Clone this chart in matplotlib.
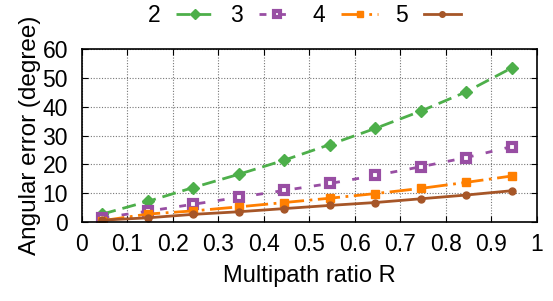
import matplotlib
matplotlib.use("Agg")
import matplotlib.pyplot as plt

plt.rcParams['font.family'] = ['Liberation Sans', 'DejaVu Sans']

ratio = [0.045, 0.145, 0.245, 0.345, 0.445, 0.545, 0.645, 0.745, 0.845, 0.945]
err2 = [2.8, 7.2, 12.0, 16.6, 21.5, 26.9, 32.5, 38.5, 45.2, 53.5]
err3 = [1.5, 3.8, 6.2, 8.6, 11.0, 13.4, 16.2, 19.2, 22.4, 26.2]
err4 = [0.5, 2.8, 3.9, 5.3, 6.8, 8.3, 9.9, 11.7, 13.8, 16.0]
err5 = [0.7, 1.5, 2.7, 3.6, 4.7, 5.8, 6.8, 8.1, 9.4, 10.9]
labels = ["2", "3", "4", "5"]

fig = plt.figure(figsize=(5.53, 3.01), dpi=100)
ax = fig.add_axes([0.148, 0.262, 0.823, 0.575])

ax.plot(ratio, err2, color='#4daf4a', lw=2, dashes=(5, 2.5), marker='D', ms=6.5, label=labels[0])
ax.plot(ratio, err3, color='#984ea3', lw=2, dashes=(2.5, 4.5), marker='s', ms=5.5,
        mfc='white', mec='#984ea3', mew=3, label=labels[1])
ax.plot(ratio, err4, color='#ff7f00', lw=2, dashes=(8, 2, 1, 2), marker='s', ms=6, label=labels[2])
ax.plot(ratio, err5, color='#a65628', lw=2, marker='o', ms=5, label=labels[3])

ax.set_xlim(0, 1)
ax.set_ylim(0, 60)
ax.set_xticks([i / 10 for i in range(11)])
ax.set_xticklabels(["0"] + ["%.1f" % (i / 10) for i in range(1, 10)] + ["1"])
ax.set_yticks(range(0, 61, 10))
ax.tick_params(direction='in', top=True, right=True, labelsize=16.5, length=4)
ax.tick_params(axis='x', pad=8)
ax.tick_params(axis='y', pad=10)
ax.grid(True, color='#777777', linestyle=(0, (1, 1.5)), lw=0.8)
for s in ax.spines.values():
    s.set_linewidth(1.2)

ax.set_xlabel("Multipath ratio R", fontsize=17, labelpad=6)
ax.set_ylabel("Angular error (degree)", fontsize=17.5, labelpad=1)

fig.legend(loc='center', bbox_to_anchor=(0.55, 0.95), ncol=4, frameon=False,
           markerfirst=False, fontsize=16.5, handlelength=1.6, columnspacing=0.75,
           handletextpad=0.7, markerscale=0.8)

fig.savefig("out.png", dpi=100)
